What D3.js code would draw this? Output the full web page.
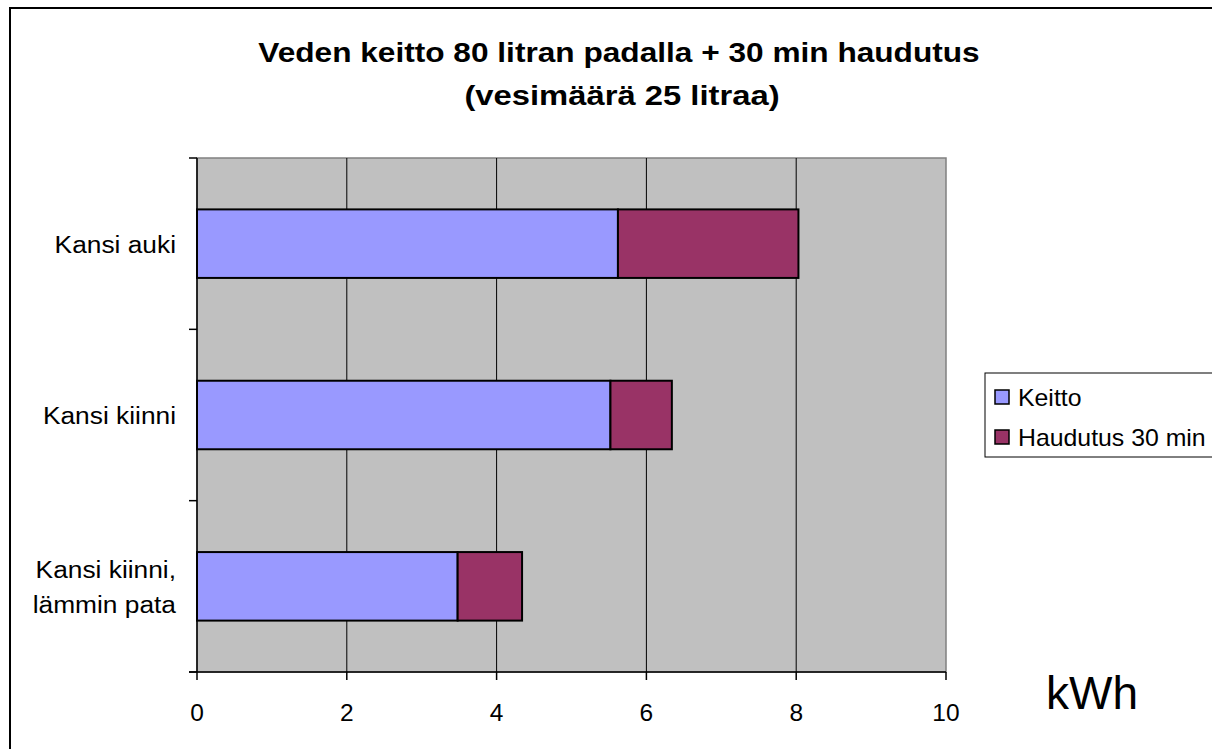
<!DOCTYPE html>
<html>
<head>
<meta charset="utf-8">
<script src="https://cdn.jsdelivr.net/npm/d3@7"></script>
<style>
  body { margin: 0; background: #fff; }
  svg { display: block; font-family: Arial, "Liberation Sans", sans-serif; }
</style>
</head>
<body>
<div id="chart-area"></div>
<script>
// Veden keitto chart data
var categories = ["Kansi auki", "Kansi kiinni", "Kansi kiinni,\nlämmin pata"];
var keitto = [5.62, 5.52, 3.48];
var haudutus = [2.41, 0.82, 0.86];
var seriesNames = ["Keitto", "Haudutus 30 min"];
var xTicks = [0, 2, 4, 6, 8, 10];

var colors = ["#9999FF", "#993366"];

var svg = d3.select("#chart-area").append("svg")
            .attr("width", 1212)
            .attr("height", 749);

// outer chart border
svg.append("rect")
    .attr("x", 10).attr("y", 8)
    .attr("width", 1220).attr("height", 760)
    .attr("fill", "#fff")
    .attr("stroke", "#000")
    .attr("stroke-width", 2);

var plot = {left: 197, right: 946, top: 158, bottom: 672};

const x = d3.scaleLinear().domain([0, 10]).range([plot.left, plot.right]);

const y = d3.scaleBand()
            .domain(categories)
            .range([plot.top, plot.bottom])
            .paddingInner(0.6)
            .paddingOuter(0.3);

// plot background
svg.append("rect")
    .attr("x", plot.left).attr("y", plot.top)
    .attr("width", plot.right - plot.left)
    .attr("height", plot.bottom - plot.top)
    .attr("fill", "#C0C0C0")
    .attr("stroke", "#808080")
    .attr("stroke-width", 1.5);

// gridlines
svg.selectAll(".grid").data(xTicks.slice(1, -1)).enter().append("line")
    .attr("x1", d => x(d)).attr("x2", d => x(d))
    .attr("y1", plot.top).attr("y2", plot.bottom)
    .attr("stroke", "#000")
    .attr("stroke-width", 1);

// stacked bars
var rows = categories.map((c, i) => ({name: c, values: [keitto[i], haudutus[i]]}));
rows.forEach(r => {
    var start = 0;
    r.values.forEach((v, j) => {
        svg.append("rect")
            .attr("x", x(start))
            .attr("y", y(r.name))
            .attr("width", x(start + v) - x(start))
            .attr("height", y.bandwidth())
            .attr("fill", colors[j])
            .attr("stroke", "#000")
            .attr("stroke-width", 2);
        start += v;
    });
});

// y axis line and ticks at category boundaries
svg.append("line")
    .attr("x1", plot.left).attr("x2", plot.left)
    .attr("y1", plot.top).attr("y2", plot.bottom)
    .attr("stroke", "#000").attr("stroke-width", 1.5);
var bounds = d3.range(categories.length + 1).map(k => plot.top + k * y.step());
svg.selectAll(".ytick").data(bounds).enter().append("line")
    .attr("x1", plot.left - 8).attr("x2", plot.left)
    .attr("y1", d => d).attr("y2", d => d)
    .attr("stroke", "#000").attr("stroke-width", 1.5);

// stretched text helper (the original rendering is a bit wider)
function label(px, py, str, size, sx, anchor, weight) {
    return svg.append("text")
        .attr("transform", "translate(" + px + "," + py + ") scale(" + sx + ",1)")
        .attr("text-anchor", anchor || "start")
        .attr("font-size", size)
        .attr("font-weight", weight || "normal")
        .attr("fill", "#000")
        .text(str);
}

// category labels
categories.forEach(c => {
    var lines = c.split("\n");
    var cy = y(c) + y.bandwidth() / 2;
    var lh = 34.5;
    lines.forEach((l, i) => {
        label(176, cy + (i - (lines.length - 1) / 2) * lh + 9, l, 23.5, 1.12, "end");
    });
});

// x axis
svg.append("line")
    .attr("x1", plot.left - 8).attr("x2", plot.right)
    .attr("y1", plot.bottom).attr("y2", plot.bottom)
    .attr("stroke", "#000").attr("stroke-width", 1.5);
svg.selectAll(".xtick").data(xTicks).enter().append("line")
    .attr("x1", d => x(d)).attr("x2", d => x(d))
    .attr("y1", plot.bottom).attr("y2", plot.bottom + 8)
    .attr("stroke", "#000").attr("stroke-width", 1.5);
svg.selectAll(".xlabel").data(xTicks).enter().append("text")
    .attr("x", d => x(d))
    .attr("y", 721)
    .attr("text-anchor", "middle")
    .attr("font-size", 24.5)
    .text(d => d);

// unit label
label(1092, 709, "kWh", 46, 1, "middle");

// title
label(619, 62, "Veden keitto 80 litran padalla + 30 min haudutus", 28, 1.13, "middle", "bold");
label(622, 105, "(vesimäärä 25 litraa)", 28.5, 1.15, "middle", "bold");

// legend
svg.append("rect")
    .attr("x", 985).attr("y", 373)
    .attr("width", 260).attr("height", 84)
    .attr("fill", "#fff")
    .attr("stroke", "#000").attr("stroke-width", 1);
seriesNames.forEach((s, i) => {
    var ly = 397 + i * 40;
    svg.append("rect")
        .attr("x", 995).attr("y", ly - 7)
        .attr("width", 14).attr("height", 14)
        .attr("fill", colors[i])
        .attr("stroke", "#000").attr("stroke-width", 1.5);
    label(1018, ly + 8.5, s, 23, 1.08);
});
</script>
</body>
</html>
